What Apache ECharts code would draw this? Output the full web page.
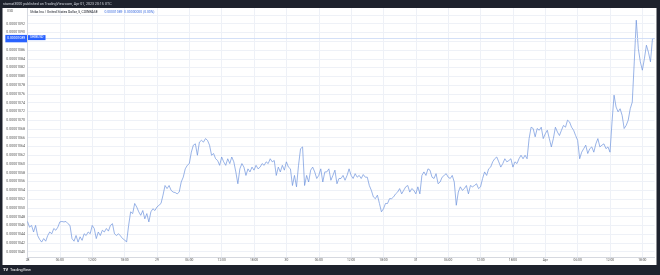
<!DOCTYPE html>
<html><head><meta charset="utf-8">
<script src="https://cdn.jsdelivr.net/npm/echarts@6/dist/echarts.min.js"></script>
<style>html,body{margin:0;padding:0;background:#1e222d;}#c{width:660px;height:275px;}</style>
</head><body><div id="c"></div>
<script>
const publishedNote = 'stamat3000 published on TradingView.com, Apr 01, 2023 20:15 UTC';
const symbolTitle = 'Shiba Inu / United States Dollar, 5, COINBASE';
const symbolShort = 'SHIBUSD';
const currencyLabel = 'USD';
const startTimeUTC = Date.UTC(2023, 2, 28, 0, 0, 0);
const stepMinutes = 22.5;
const monthNames = ['Jan','Feb','Mar','Apr','May','Jun','Jul','Aug','Sep','Oct','Nov','Dec'];
// prices in units of 1e-8 USD, every 22.5 minutes
const priceUnit = 1e-8;
const prices = [
  1046.9,1045.6,1046.0,1044.5,1046.0,1043.7,1042.8,1042.2,1043.0,1042.4,
  1043.7,1044.5,1044.1,1045.3,1044.9,1045.6,1046.8,1046.9,1046.8,1046.9,
  1046.4,1046.0,1043.0,1042.4,1043.7,1042.2,1043.4,1042.6,1044.1,1043.7,
  1044.5,1044.1,1046.0,1045.3,1043.0,1044.5,1043.7,1044.9,1044.5,1045.3,
  1044.7,1046.0,1046.4,1044.1,1043.7,1044.1,1043.6,1043.0,1042.7,1042.2,
  1046.0,1049.1,1048.7,1051.0,1050.2,1049.1,1048.3,1049.4,1047.5,1048.7,
  1046.8,1049.1,1049.8,1049.4,1050.2,1050.6,1051.0,1052.9,1055.1,1054.4,
  1055.1,1054.0,1053.6,1053.5,1053.2,1053.6,1055.9,1057.0,1058.9,1059.7,
  1060.1,1062.7,1064.3,1064.6,1062.0,1065.0,1065.4,1065.0,1065.8,1065.4,
  1064.3,1062.0,1062.4,1061.2,1060.8,1059.7,1061.6,1060.5,1059.7,1061.2,
  1060.1,1061.6,1060.5,1058.2,1055.5,1058.9,1060.1,1059.3,1057.4,1058.9,
  1058.2,1059.3,1058.6,1059.7,1058.9,1059.3,1060.1,1059.7,1060.5,1060.1,
  1061.2,1060.5,1060.8,1057.4,1059.3,1058.2,1059.7,1058.6,1060.5,1059.3,
  1058.9,1055.1,1057.4,1054.8,1059.7,1063.5,1063.9,1055.1,1057.4,1055.9,
  1058.6,1059.3,1058.2,1056.7,1057.4,1058.9,1055.9,1058.2,1058.2,1058.9,
  1056.3,1057.4,1058.6,1055.5,1056.7,1056.7,1057.4,1056.3,1057.4,1058.9,
  1057.4,1056.7,1057.8,1057.0,1057.4,1056.7,1057.6,1057.0,1057.0,1055.1,
  1054.0,1052.5,1052.1,1052.9,1051.0,1049.1,1049.8,1051.0,1051.0,1052.1,
  1052.1,1052.5,1053.2,1053.6,1054.4,1053.2,1054.0,1054.8,1055.1,1053.6,
  1054.4,1054.0,1053.2,1054.8,1053.2,1057.4,1058.2,1057.4,1058.9,1058.6,
  1057.0,1056.7,1057.8,1055.5,1055.9,1057.0,1057.4,1057.8,1057.0,1056.7,
  1057.4,1055.9,1050.6,1053.6,1054.8,1054.0,1054.4,1055.1,1053.2,1055.1,
  1054.8,1055.1,1055.5,1054.4,1054.8,1056.7,1058.2,1057.4,1058.9,1059.3,
  1060.5,1061.2,1061.6,1060.5,1059.3,1060.1,1061.2,1060.5,1060.8,1061.2,
  1059.3,1060.5,1060.1,1061.2,1062.0,1061.2,1062.0,1061.2,1065.8,1068.4,
  1068.1,1066.2,1068.1,1067.7,1068.4,1065.8,1066.9,1067.7,1065.8,1063.9,
  1065.8,1068.4,1067.3,1066.5,1067.7,1068.8,1068.4,1070.0,1069.6,1068.4,
  1067.7,1066.5,1065.4,1061.2,1062.7,1063.5,1064.3,1062.4,1063.5,1063.9,
  1062.7,1064.6,1065.8,1063.9,1064.3,1064.6,1063.5,1063.9,1062.7,1069.6,
  1075.7,1073.0,1071.9,1072.6,1071.1,1068.1,1068.8,1070.0,1072.6,1074.1,
  1083.3,1092.8,1086.3,1083.3,1081.4,1084.0,1087.1,1085.5,1083.3,1088.6,
  1088.6
];
const yMin = 1038, yMax = 1096, yStep = 2;
const yLabelMin = 1040, yLabelMax = 1092;

const pad = n => String(n).padStart(2, '0');
const times = prices.map((_, i) => {
  const d = new Date(startTimeUTC + i * stepMinutes * 60000);
  return monthNames[d.getUTCMonth()] + ' ' + d.getUTCDate() + ' ' + pad(d.getUTCHours()) + ':' + pad(d.getUTCMinutes()) + ':' + pad(d.getUTCSeconds());
});
const labelEvery = 360 / stepMinutes;
const fmtPrice = v => (v * priceUnit).toFixed(8);
const lastPrice = prices[prices.length - 1];
const FONT = 'Roboto, "DejaVu Sans", sans-serif';

const baseGraphics = [
  {type: 'rect', id: 'bgWhite', z: -10, silent: true, shape: {x: 2.5, y: 8, width: 654, height: 257}, style: {fill: '#ffffff'}},
  {type: 'rect', id: 'hdr', z: 100, silent: true, shape: {x: 0, y: 0, width: 660, height: 8}, style: {fill: '#1e222d'}},
  {type: 'text', id: 'hdrText', z: 101, silent: true, x: 3, y: 4, style: {text: publishedNote, fill: '#d1d4dc', fontSize: 3.6, fontFamily: FONT, verticalAlign: 'middle'}},
  {type: 'text', id: 'cur', z: 101, silent: true, x: 7, y: 11, style: {text: currencyLabel, fill: '#555', fontSize: 3.3, fontFamily: FONT, verticalAlign: 'middle'}},
  {type: 'text', id: 'title', z: 101, silent: true, x: 30, y: 12, style: {
    text: '{t|' + symbolTitle + '}  {v|' + fmtPrice(lastPrice) + '  ' + fmtPrice(0) + ' (0.00%)}',
    rich: {t: {fill: '#131722', fontSize: 3.4, fontFamily: FONT}, v: {fill: '#3f6fe0', fontSize: 3.4, fontFamily: FONT}},
    verticalAlign: 'middle'}},
  {type: 'rect', id: 'ftr', z: 100, silent: true, shape: {x: 0, y: 265, width: 660, height: 10}, style: {fill: '#1e222d'}},
  {type: 'text', id: 'tv', z: 101, silent: true, x: 3, y: 270, style: {text: 'TV', fill: '#ffffff', fontSize: 4, fontWeight: 'bold', fontFamily: FONT, verticalAlign: 'middle'}},
  {type: 'text', id: 'tvName', z: 101, silent: true, x: 10, y: 270, style: {text: 'TradingView', fill: '#ffffff', fontSize: 3.8, fontFamily: FONT, verticalAlign: 'middle'}}
];

const chart = echarts.init(document.getElementById('c'), null, {renderer: 'canvas'});
chart.setOption({
  backgroundColor: '#1e222d',
  animation: false,
  textStyle: {fontFamily: FONT},
  grid: {left: 27.5, right: 5.5, top: 6.16, bottom: 14.5},
  xAxis: {
    type: 'category', data: times, boundaryGap: false, offset: -3.5,
    axisLine: {show: true, lineStyle: {color: '#d6d9e0', width: 1}},
    axisTick: {show: false},
    axisLabel: {
      interval: (i) => i % labelEvery === 0,
      fontSize: 3.3, color: '#555', margin: 2, fontFamily: FONT,
      formatter: (val) => {
        const parts = val.split(' ');
        const hm = parts[2].slice(0, 5);
        if (hm === '00:00') return parts[1] === '1' ? parts[0] : parts[1];
        return hm;
      }
    },
    splitLine: {show: true, interval: (i) => i % labelEvery === 0, lineStyle: {color: '#eef1f7', width: 1}}
  },
  yAxis: {
    type: 'value', min: yMin, max: yMax, interval: yStep, position: 'left',
    axisLine: {show: true, lineStyle: {color: '#d6d9e0', width: 1}},
    axisTick: {show: false},
    axisLabel: {
      fontSize: 3.5, color: '#555', margin: 2.5, fontFamily: FONT,
      formatter: (v) => (v < yLabelMin || v > yLabelMax) ? '' : fmtPrice(v)
    },
    splitLine: {show: true, showMinLine: false, showMaxLine: false, lineStyle: {color: '#eef1f7', width: 1}}
  },
  series: [{
    type: 'line', data: prices, showSymbol: false, symbol: 'none',
    lineStyle: {color: '#6f93dc', width: 0.7},
    markLine: {
      silent: true, symbol: 'none',
      lineStyle: {color: '#c9d8f5', width: 0.8, type: 'solid'},
      label: {
        show: true, position: 'start', distance: 0.5,
        backgroundColor: '#2962ff', color: '#fff', fontSize: 3.4, fontFamily: FONT,
        padding: [2.2, 1.8], formatter: () => fmtPrice(lastPrice)
      },
      data: [{yAxis: lastPrice}]
    }
  }],
  graphic: baseGraphics
});
const yLast = chart.convertToPixel({yAxisIndex: 0}, lastPrice);
const xFirst = chart.convertToPixel({xAxisIndex: 0}, 0);
chart.setOption({graphic: baseGraphics.concat([
  {type: 'text', id: 'symTag', z: 101, silent: true, x: xFirst + 0.5, y: yLast - 1, style: {
    text: symbolShort, fill: '#fff', backgroundColor: '#2962ff', fontSize: 3.3, fontFamily: FONT,
    padding: [1, 2], verticalAlign: 'middle'}}
])});
</script></body></html>
